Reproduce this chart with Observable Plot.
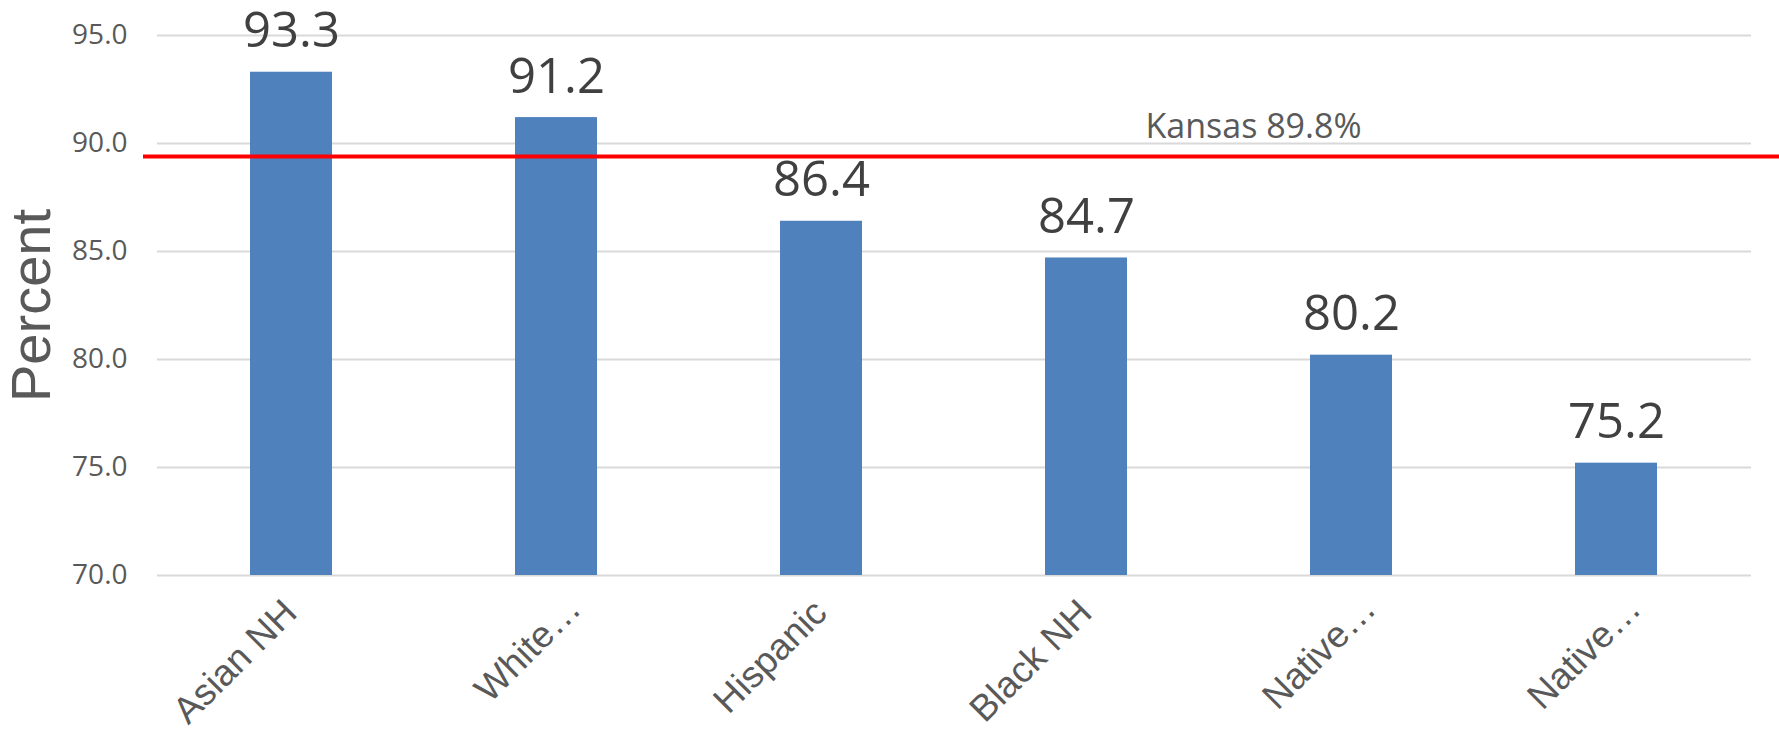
<!DOCTYPE html>
<html>
<head>
<meta charset="utf-8">
<script src="https://cdn.jsdelivr.net/npm/d3@7"></script>
<script src="https://cdn.jsdelivr.net/npm/@observablehq/plot@0.6"></script>
<style>
  html, body { margin: 0; padding: 0; background: #fff; }
  #chart svg { display: block; }
</style>
</head>
<body>
<div id="chart"></div>
<script>
// Data
const categories = ["Asian NH", "White…", "Hispanic", "Black NH", "Native…", "Native…"];
const values = [93.3, 91.2, 86.4, 84.7, 80.2, 75.2];
const yTicks = [70, 75, 80, 85, 90, 95];
const kansasLine = 89.4;          // where the red line is drawn in the picture
const kansasLabel = "Kansas 89.8%";
const kansasLabelAt = 4;          // category index the label sits near
const yLabel = "Percent";

const data = values.map((v, i) => ({i, v}));
const idx = d3.range(categories.length);
const plainIdx = idx.filter(i => !categories[i].endsWith("…"));
const truncIdx = idx.filter(i => categories[i].endsWith("…"));
const xAxisStyle = {tickSize: 0, tickRotate: -45, tickPadding: 31, tickFormat: i => categories[i], label: null,
  fontSize: 37, fontFamily: "Liberation Sans", fill: "#595959"};

const chart = Plot.plot({
  width: 1779,
  height: 732,
  marginLeft: 157,
  marginRight: 28,
  marginTop: 35,
  marginBottom: 157,
  x: {domain: idx, paddingInner: 0.69, paddingOuter: 0.345, axis: null},
  y: {domain: [70, 95], axis: null},
  marks: [
    Plot.gridY(yTicks, {stroke: "#d9d9d9", strokeOpacity: 1, strokeWidth: 2}),
    Plot.barY(data, {x: "i", y1: 70, y2: "v", fill: "#4f81bd"}),
    Plot.ruleY([kansasLine], {stroke: "#ff0000", strokeWidth: 4, insetLeft: -14, insetRight: -28}),
    Plot.text(data, {x: "i", y: "v", text: d => d.v.toFixed(1), lineAnchor: "bottom", dy: -25,
      fontSize: 49, fontFamily: "Open Sans", fill: "#404040"}),
    Plot.text([kansasLabel], {x: () => kansasLabelAt, y: () => kansasLine, text: d => d, dx: -98, dy: -18,
      lineAnchor: "bottom", fontSize: 34, fontFamily: "Open Sans", fill: "#595959"}),
    Plot.axisY(yTicks, {tickSize: 0, tickPadding: 30, tickFormat: d => d.toFixed(1), label: null,
      fontSize: 28, fontFamily: "Open Sans", fill: "#595959"}),
    Plot.axisX(plainIdx, {...xAxisStyle, dx: -1}),
    Plot.axisX(truncIdx, {...xAxisStyle, dx: 18, dy: -4}),
    Plot.text([yLabel], {frameAnchor: "left", text: d => d, rotate: -90, textAnchor: "middle", dx: -125,
      fontSize: 56, fontFamily: "Liberation Sans", fill: "#595959"})
  ]
});
document.getElementById("chart").appendChild(chart);
</script>
</body>
</html>
